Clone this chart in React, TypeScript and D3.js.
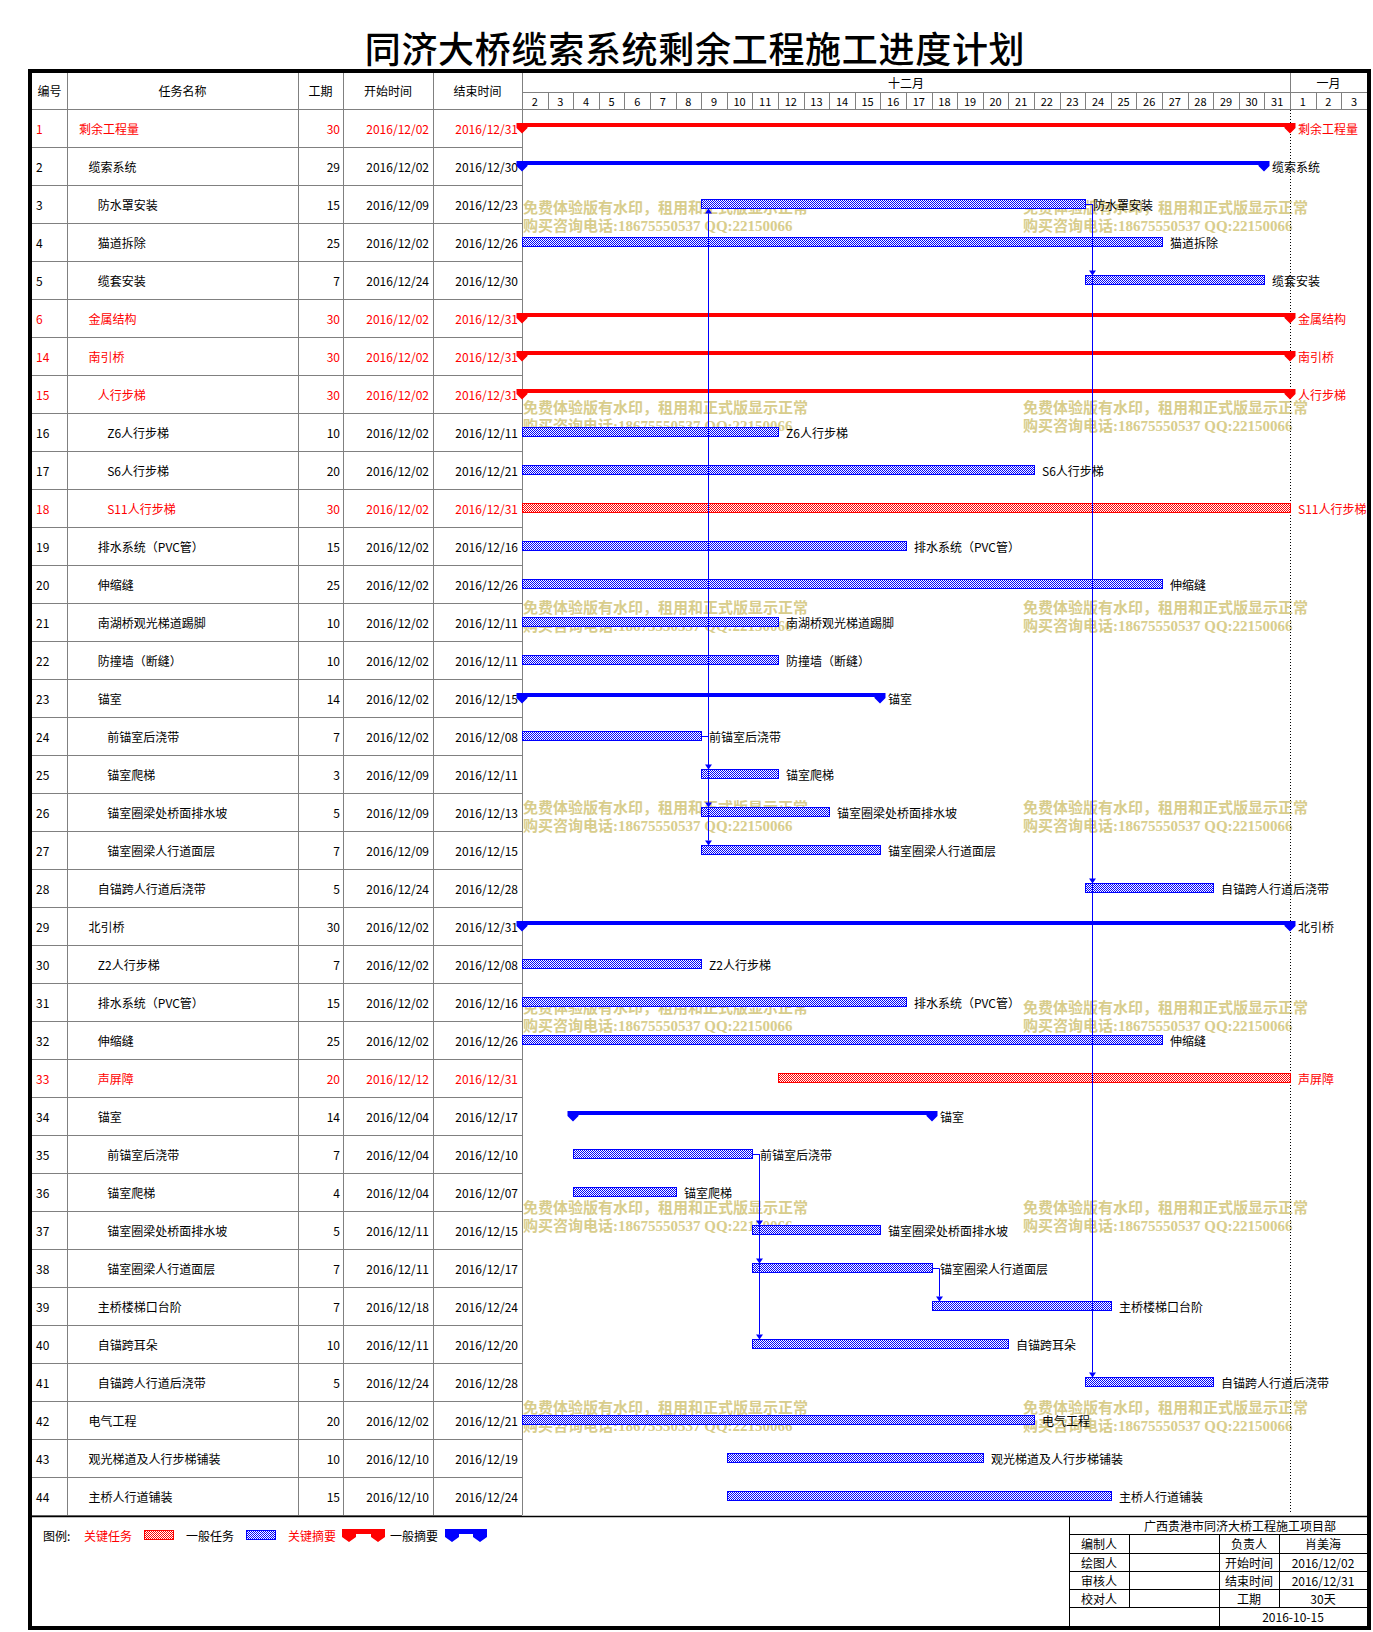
import React from 'react';
import * as d3 from 'd3';

const taskIds = [1, 2, 3, 4, 5, 6, 14, 15, 16, 17, 18, 19, 20, 21, 22, 23, 24, 25, 26, 27, 28, 29, 30, 31, 32, 33, 34, 35, 36, 37, 38, 39, 40, 41, 42, 43, 44];
const taskNames = [
  '剩余工程量', '缆索系统', '防水罩安装', '猫道拆除', '缆套安装', '金属结构', '南引桥', '人行步梯',
  'Z6人行步梯', 'S6人行步梯', 'S11人行步梯', '排水系统（PVC管）', '伸缩缝', '南湖桥观光梯道踢脚',
  '防撞墙（断缝）', '锚室', '前锚室后浇带', '锚室爬梯', '锚室圈梁处桥面排水坡', '锚室圈梁人行道面层',
  '自锚跨人行道后浇带', '北引桥', 'Z2人行步梯', '排水系统（PVC管）', '伸缩缝', '声屏障', '锚室',
  '前锚室后浇带', '锚室爬梯', '锚室圈梁处桥面排水坡', '锚室圈梁人行道面层', '主桥楼梯口台阶',
  '自锚跨耳朵', '自锚跨人行道后浇带', '电气工程', '观光梯道及人行步梯铺装', '主桥人行道铺装',
];
const taskLevels = [0, 1, 2, 2, 2, 1, 1, 2, 3, 3, 3, 2, 2, 2, 2, 2, 3, 3, 3, 3, 2, 1, 2, 2, 2, 2, 2, 3, 3, 3, 3, 2, 2, 2, 1, 1, 1];
const taskDurations = [30, 29, 15, 25, 7, 30, 30, 30, 10, 20, 30, 15, 25, 10, 10, 14, 7, 3, 5, 7, 5, 30, 7, 15, 25, 20, 14, 7, 4, 5, 7, 7, 10, 5, 20, 10, 15];
const taskStarts = [
  '2016/12/02', '2016/12/02', '2016/12/09', '2016/12/02', '2016/12/24', '2016/12/02', '2016/12/02', '2016/12/02',
  '2016/12/02', '2016/12/02', '2016/12/02', '2016/12/02', '2016/12/02', '2016/12/02', '2016/12/02', '2016/12/02',
  '2016/12/02', '2016/12/09', '2016/12/09', '2016/12/09', '2016/12/24', '2016/12/02', '2016/12/02', '2016/12/02',
  '2016/12/02', '2016/12/12', '2016/12/04', '2016/12/04', '2016/12/04', '2016/12/11', '2016/12/11', '2016/12/18',
  '2016/12/11', '2016/12/24', '2016/12/02', '2016/12/10', '2016/12/10',
];
const taskEnds = [
  '2016/12/31', '2016/12/30', '2016/12/23', '2016/12/26', '2016/12/30', '2016/12/31', '2016/12/31', '2016/12/31',
  '2016/12/11', '2016/12/21', '2016/12/31', '2016/12/16', '2016/12/26', '2016/12/11', '2016/12/11', '2016/12/15',
  '2016/12/08', '2016/12/11', '2016/12/13', '2016/12/15', '2016/12/28', '2016/12/31', '2016/12/08', '2016/12/16',
  '2016/12/26', '2016/12/31', '2016/12/17', '2016/12/10', '2016/12/07', '2016/12/15', '2016/12/17', '2016/12/24',
  '2016/12/20', '2016/12/28', '2016/12/21', '2016/12/19', '2016/12/24',
];
// cs = critical summary, s = summary, ct = critical task, t = task
const taskKinds = [
  'cs', 's', 't', 't', 't', 'cs', 'cs', 'cs', 't', 't', 'ct', 't', 't', 't', 't', 's', 't', 't', 't', 't', 't',
  's', 't', 't', 't', 'ct', 's', 't', 't', 't', 't', 't', 't', 't', 't', 't', 't',
];
const linkFrom = [24, 24, 24, 24, 3, 3, 3, 35, 35, 35, 38];
const linkTo = [3, 25, 26, 27, 5, 28, 41, 37, 38, 40, 39];

const headerLabels = ['编号', '任务名称', '工期', '开始时间', '结束时间'];
const monthNames = ['十二月', '一月'];
const legendLabels = ['关键任务', '一般任务', '关键摘要', '一般摘要'];
const signRowsLeft = ['编制人', '绘图人', '审核人', '校对人'];
const signRowsMid = ['负责人', '开始时间', '结束时间', '工期'];
const signRowsRight = ['肖美海', '2016/12/02', '2016/12/31', '30天'];
const watermarkLines = ['免费体验版有水印，租用和正式版显示正常', '购买咨询电话:18675550537 QQ:22150066'];

const FONT = '"Noto Sans CJK SC", "Noto Sans", sans-serif';
const RED = '#ff0000';
const BLUE = '#0000ff';
const GRID = '#808080';

export default function App() {
  const parse = d3.utcParse('%Y/%m/%d');
  const d0 = new Date(Date.UTC(2016, 11, 2));
  const d1 = new Date(Date.UTC(2017, 0, 4));
  const x = d3.scaleUtc().domain([d0, d1]).range([522, 522 + 33 * 25.6]);
  const y = d3.scaleBand<string>().domain(taskIds.map(String)).range([109, 1515]);
  const bw = y.bandwidth();
  const mid = (id: number) => (y(String(id)) as number) + bw / 2;
  const idx = (id: number) => taskIds.indexOf(id);
  const sx = (i: number) => x(parse(taskStarts[i]) as Date);
  const ex = (i: number) => x(d3.utcDay.offset(parse(taskEnds[i]) as Date, 1));

  const days = d3.utcDay.range(d0, d1);
  const months = d3.utcMonth.range(d3.utcMonth.floor(d0), d1).map((m, i) => {
    const a = m < d0 ? d0 : m;
    const nb = d3.utcMonth.offset(m, 1);
    const b = nb > d1 ? d1 : nb;
    return { a: x(a), b: x(b), label: monthNames[i] };
  });

  const colX = [32, 67, 298, 343, 433, 522];
  const tableTop = 72;
  const headMid = 90.5;
  const rightEdge = 1367;

  const summaryPath = (xa: number, xb: number, top: number, barH: number, hw: number, shoulder: number, tip: number) => {
    const bar = `M${xa - hw},${top}H${xb + hw}V${top + barH}H${xa - hw}Z`;
    const end = (c: number) => `M${c - hw},${top}H${c + hw}V${shoulder}L${c},${tip}L${c - hw},${shoulder}Z`;
    return bar + end(xa) + end(xb);
  };

  const wmRows = d3.range(7).map((k) => 208 + 200 * k);
  const wmCols = [523, 1023];

  const signTop = 1517;
  const signRowY = [1517, 1534, 1553, 1571, 1589, 1607, 1626];
  const signColX = [1069, 1129, 1219, 1279, rightEdge];

  return (
    <svg
      width={1373}
      height={1632}
      style={{ position: 'absolute', left: 0, top: 0, display: 'block', background: '#fff' }}
      fontFamily={FONT}
    >
      <defs>
        <pattern id="hatchBlue" width={2} height={2} patternUnits="userSpaceOnUse">
          <rect width={2} height={2} fill="#fff" />
          <rect x={0} y={0} width={1} height={1} fill={BLUE} />
          <rect x={1} y={1} width={1} height={1} fill={BLUE} />
        </pattern>
        <pattern id="hatchRed" width={2} height={2} patternUnits="userSpaceOnUse">
          <rect width={2} height={2} fill="#fff" />
          <rect x={0} y={0} width={1} height={1} fill={RED} />
          <rect x={1} y={1} width={1} height={1} fill={RED} />
        </pattern>
      </defs>
      <rect x={0} y={0} width={1373} height={1632} fill="#fff" />

      {/* title */}
      <text x={695} y={47} fontSize={36} textAnchor="middle" dominantBaseline="central" letterSpacing={0.7} fill="#000" fontWeight={500}>
        同济大桥缆索系统剩余工程施工进度计划
      </text>

      {/* watermarks */}
      <g fill="#d8cd8c" fontSize={15} fontWeight="bold" fontFamily={'"Liberation Serif", "Noto Sans CJK SC", serif'}>
        {wmRows.map((wy) =>
          wmCols.map((wx) => (
            <g key={`${wx}-${wy}`}>
              <text x={wx} y={wy} dominantBaseline="central">{watermarkLines[0]}</text>
              <text x={wx} y={wy + 17.5} dominantBaseline="central">{watermarkLines[1]}</text>
            </g>
          ))
        )}
      </g>

      {/* table grid */}
      <g stroke={GRID} strokeWidth={1} shapeRendering="crispEdges">
        {taskIds.map((id) => (
          <line key={`h${id}`} x1={32} x2={522} y1={(y(String(id)) as number) + bw} y2={(y(String(id)) as number) + bw} />
        ))}
        <line x1={32} x2={rightEdge} y1={109} y2={109} />
        {colX.slice(1).map((cx) => (
          <line key={`v${cx}`} x1={cx} x2={cx} y1={tableTop} y2={1515} />
        ))}
        <line x1={522} x2={rightEdge} y1={92} y2={92} />
        {days.slice(1).map((d) => (
          <line key={`d${+d}`} x1={Math.round(x(d))} x2={Math.round(x(d))} y1={92} y2={109} />
        ))}
        {months.slice(1).map((m) => (
          <line key={`m${m.a}`} x1={Math.round(m.a)} x2={Math.round(m.a)} y1={tableTop} y2={92} />
        ))}
      </g>

      {/* header text */}
      <g fontSize={12} fill="#000" textAnchor="middle" dominantBaseline="central">
        {headerLabels.map((h, i) => (
          <text key={h} x={(colX[i] + colX[i + 1]) / 2} y={headMid}>{h}</text>
        ))}
        {months.map((m) => (
          <text key={m.label} x={(m.a + m.b) / 2} y={82}>{m.label}</text>
        ))}
        {days.map((d) => (
          <text key={`t${+d}`} x={(x(d) + x(d3.utcDay.offset(d, 1))) / 2} y={100.5} fontSize={11}>
            {d.getUTCDate()}
          </text>
        ))}
      </g>

      {/* table body text */}
      <g fontSize={12} dominantBaseline="central">
        {taskIds.map((id, i) => {
          const crit = taskKinds[i][0] === 'c';
          const cy = mid(id);
          const fill = crit ? RED : '#000';
          return (
            <g key={`r${id}`} fill={fill}>
              <text x={36} y={cy}>{id}</text>
              <text x={79 + taskLevels[i] * 9.4} y={cy}>{taskNames[i]}</text>
              <text x={340} y={cy} textAnchor="end">{taskDurations[i]}</text>
              <text x={429} y={cy} textAnchor="end">{taskStarts[i]}</text>
              <text x={518} y={cy} textAnchor="end">{taskEnds[i]}</text>
            </g>
          );
        })}
      </g>

      {/* today / end dotted line */}
      <line x1={1290.5} x2={1290.5} y1={110} y2={1514} stroke="#000" strokeWidth={1} strokeDasharray="1,2" />

      {/* bars */}
      <g>
        {taskIds.map((id, i) => {
          const kind = taskKinds[i];
          const cy = mid(id);
          const xa = Math.round(sx(i));
          const xb = Math.round(ex(i));
          const color = kind[0] === 'c' ? RED : BLUE;
          if (kind === 'cs' || kind === 's') {
            return (
              <path key={`b${id}`} d={summaryPath(xa, xb, cy - 5, 4, 5.5, cy, cy + 5.5)} fill={color} />
            );
          }
          return (
            <rect
              key={`b${id}`}
              x={xa + 0.5}
              y={cy - 4.5}
              width={xb - xa}
              height={9}
              fill={kind === 'ct' ? 'url(#hatchRed)' : 'url(#hatchBlue)'}
              stroke={color}
              strokeWidth={1}
            />
          );
        })}
      </g>

      {/* links */}
      <g stroke={BLUE} strokeWidth={1} fill="none">
        {linkFrom.map((f, k) => {
          const fi = idx(f);
          const ti = idx(linkTo[k]);
          const fx = Math.round(ex(fi));
          const lx = fx + 7.5;
          const fy = Math.round(mid(f)) + 0.5;
          const up = ti < fi;
          const ty = up ? mid(linkTo[k]) + 4.5 : mid(linkTo[k]) - 4.5;
          const ah = up ? ty + 5 : ty - 5;
          return (
            <g key={`l${k}`}>
              <path d={`M${fx},${fy}H${lx}V${ah}`} />
              <path d={`M${lx - 3.5},${ah}H${lx + 3.5}L${lx},${ty}Z`} fill={BLUE} stroke="none" />
            </g>
          );
        })}
      </g>

      {/* bar labels */}
      <g fontSize={12} dominantBaseline="central">
        {taskIds.map((id, i) => (
          <text key={`lb${id}`} x={Math.round(ex(i)) + 8} y={mid(id)} fill={taskKinds[i][0] === 'c' ? RED : '#000'}>
            {taskNames[i]}
          </text>
        ))}
      </g>

      {/* bottom separator */}
      <line x1={32} x2={rightEdge} y1={1516.5} y2={1516.5} stroke="#000" strokeWidth={1.5} />

      {/* legend */}
      <g fontSize={12} dominantBaseline="central">
        <text x={43} y={1535} fill="#000">图例:</text>
        <text x={84} y={1535} fill={RED}>{legendLabels[0]}</text>
        <rect x={144.5} y={1530.5} width={29} height={9} fill="url(#hatchRed)" stroke={RED} />
        <text x={186} y={1535} fill="#000">{legendLabels[1]}</text>
        <rect x={246.5} y={1530.5} width={29} height={9} fill="url(#hatchBlue)" stroke={BLUE} />
        <text x={288} y={1535} fill={RED}>{legendLabels[2]}</text>
        <path d={summaryPath(349, 378, 1529, 5, 7, 1537, 1542)} fill={RED} />
        <text x={390} y={1535} fill="#000">{legendLabels[3]}</text>
        <path d={summaryPath(452, 480, 1529, 5, 7, 1537, 1542)} fill={BLUE} />
      </g>

      {/* sign-off table */}
      <g stroke="#000" strokeWidth={1} shapeRendering="crispEdges">
        {signRowY.slice(1, 6).map((sy) => (
          <line key={`sy${sy}`} x1={signColX[0]} x2={rightEdge} y1={sy} y2={sy} />
        ))}
        <line x1={signColX[0]} x2={signColX[0]} y1={signTop} y2={1626} />
        <line x1={signColX[1]} x2={signColX[1]} y1={signRowY[1]} y2={signRowY[5]} />
        <line x1={signColX[2]} x2={signColX[2]} y1={signRowY[1]} y2={1626} />
        <line x1={signColX[3]} x2={signColX[3]} y1={signRowY[1]} y2={signRowY[5]} />
      </g>
      <g fontSize={12} fill="#000" textAnchor="middle" dominantBaseline="central">
        <text x={1240} y={(signRowY[0] + signRowY[1]) / 2}>广西贵港市同济大桥工程施工项目部</text>
        {signRowsLeft.map((s, i) => (
          <g key={s}>
            <text x={(signColX[0] + signColX[1]) / 2} y={(signRowY[i + 1] + signRowY[i + 2]) / 2}>{s}</text>
            <text x={(signColX[2] + signColX[3]) / 2} y={(signRowY[i + 1] + signRowY[i + 2]) / 2}>{signRowsMid[i]}</text>
            <text x={(signColX[3] + signColX[4]) / 2} y={(signRowY[i + 1] + signRowY[i + 2]) / 2}>{signRowsRight[i]}</text>
          </g>
        ))}
        <text x={(signColX[2] + signColX[4]) / 2} y={(signRowY[5] + signRowY[6]) / 2}>2016-10-15</text>
      </g>

      {/* outer border */}
      <rect x={30} y={71} width={1339} height={1557} fill="none" stroke="#000" strokeWidth={4} />
    </svg>
  );
}
